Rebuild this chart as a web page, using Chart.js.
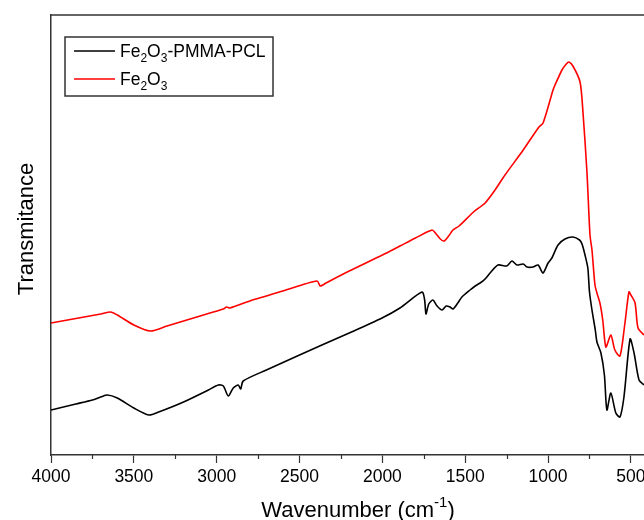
<!DOCTYPE html>
<html>
<head>
<meta charset="utf-8">
<title>FTIR</title>
<script src="https://cdn.jsdelivr.net/npm/chart.js@4/dist/chart.umd.min.js"></script>
<style>
  html, body { margin: 0; padding: 0; background: #fff; }
  #wrap { width: 644px; height: 520px; }
</style>
</head>
<body>
<div id="wrap"><canvas id="c"></canvas></div>
<script>
// spectra (wavenumber in cm-1, transmitance in arbitrary units)
var compositeWavenumber = [4000, 3900, 3850, 3750, 3700, 3660, 3600, 3500, 3410, 3350, 3200, 3050, 2990, 2960, 2930, 2900, 2870, 2855, 2840, 2700, 2500, 2365, 2200, 2002, 1894, 1761, 1745, 1737, 1720, 1695, 1670, 1640, 1615, 1592, 1574, 1545, 1520, 1471, 1440, 1410, 1380, 1350, 1302, 1250, 1218, 1188, 1150, 1127, 1091, 1060, 1031, 1000, 977, 940, 898, 850, 810, 795, 777, 760, 750, 735, 715, 705, 681, 660, 645, 621, 591, 566, 542, 505, 481, 451, 421];
var compositeT = [45, 49, 51, 55, 58, 60, 57, 47, 40, 43, 53, 65, 70, 69, 59, 67, 70, 66, 74, 85, 100, 110, 122, 137, 147, 163, 155, 141, 151, 155, 149, 145, 149, 148, 146, 152, 158, 165, 169, 172, 176, 182, 190, 189, 194, 190, 191, 188, 188, 190, 182, 192, 197, 210, 216, 218, 215, 211, 200, 187, 163, 145, 125, 113, 102, 80, 45, 62, 42, 38, 58, 116, 102, 75, 70];

var oxideWavenumber = [4000, 3900, 3800, 3700, 3640, 3600, 3500, 3400, 3300, 3100, 2960, 2940, 2920, 2800, 2600, 2395, 2375, 2360, 2340, 2200, 2000, 1894, 1800, 1700, 1680, 1650, 1628, 1600, 1574, 1537, 1450, 1380, 1320, 1260, 1150, 1055, 1030, 970, 958, 916, 890, 874, 850, 807, 789, 765, 747, 735, 717, 705, 687, 670, 651, 621, 597, 566, 536, 512, 500, 475, 457, 421];
var oxideT = [132, 135, 138, 141, 143, 140, 130, 124, 129, 139, 146, 148, 147, 154, 164, 174, 169, 170, 172, 184, 200, 209, 217, 225, 222, 216, 214, 219, 225, 229, 243, 252, 265, 280, 305, 328, 332, 365, 370, 385, 391, 393, 389, 373, 342, 282, 220, 205, 170, 162, 152, 135, 108, 120, 105, 99, 132, 163, 160, 152, 127, 120];

// "_" marks the next character as a subscript
var seriesLabels = ["Fe_2O_3-PMMA-PCL", "Fe_2O_3"];
var seriesColors = ["#000000", "#ff0000"];
var xMajorTicks = [4000, 3500, 3000, 2500, 2000, 1500, 1000, 500];
var xMinorTicks = [3750, 3250, 2750, 2250, 1750, 1250, 750];

var FONT = "'Liberation Sans', Arial, sans-serif";
var AXIS = "#333333";

function toPoints(xs, ys) {
  return xs.map(function (x, i) { return { x: x, y: ys[i] }; });
}

// splits "Fe_2O_3" / "cm^-1)" into runs of normal, sub and super text
function richRuns(str) {
  var runs = [], i = 0, buf = "";
  while (i < str.length) {
    var ch = str[i];
    if (ch === "_" || ch === "^") {
      if (buf) { runs.push({ t: buf, k: 0 }); buf = ""; }
      i++;
      var part = "";
      if (ch === "^") {
        while (i < str.length && str[i] !== ")") { part += str[i]; i++; }
      } else {
        part = str[i]; i++;
      }
      runs.push({ t: part, k: ch === "_" ? 1 : -1 });
      continue;
    }
    buf += ch;
    i++;
  }
  if (buf) runs.push({ t: buf, k: 0 });
  return runs;
}

function drawRich(ctx, str, x, y, size, measureOnly) {
  var start = x;
  richRuns(str).forEach(function (r) {
    var s = r.k === 0 ? size : Math.round(size * 0.66);
    ctx.font = s + "px " + FONT;
    var dy = r.k === 1 ? size * 0.3 : (r.k === -1 ? -size * 0.45 : 0);
    if (!measureOnly) ctx.fillText(r.t, x, y + dy);
    x += ctx.measureText(r.t).width;
  });
  return x - start;
}

var framePlugin = {
  id: "frame",
  afterDraw: function (chart) {
    var ctx = chart.ctx;
    var area = chart.chartArea;
    var xs = chart.scales.x;
    ctx.save();

    // top border
    ctx.strokeStyle = AXIS;
    ctx.lineWidth = 1.5;
    ctx.beginPath();
    ctx.moveTo(area.left - 0.75, area.top);
    ctx.lineTo(area.right, area.top);
    ctx.stroke();

    // minor ticks
    ctx.lineWidth = 1.2;
    xMinorTicks.forEach(function (v) {
      var px = Math.round(xs.getPixelForValue(v)) + 0.5;
      ctx.beginPath();
      ctx.moveTo(px, area.bottom);
      ctx.lineTo(px, area.bottom + 4);
      ctx.stroke();
    });

    // axis titles
    ctx.fillStyle = "#000";
    ctx.textBaseline = "alphabetic";
    var xt = "Wavenumber (cm^-1)";
    var w = drawRich(ctx, xt, 0, 0, 22, true);
    drawRich(ctx, xt, 358 - w / 2, 517, 22);

    ctx.save();
    ctx.translate(33, 229);
    ctx.rotate(-Math.PI / 2);
    ctx.font = "22px " + FONT;
    ctx.textAlign = "center";
    ctx.fillText("Transmitance", 0, 0);
    ctx.restore();

    // legend
    ctx.strokeStyle = AXIS;
    ctx.lineWidth = 1.5;
    ctx.strokeRect(65, 37, 208, 59);
    seriesLabels.forEach(function (label, i) {
      var y = 51 + i * 28;
      ctx.strokeStyle = seriesColors[i];
      ctx.lineWidth = 1.5;
      ctx.beginPath();
      ctx.moveTo(74, y);
      ctx.lineTo(115, y);
      ctx.stroke();
      ctx.fillStyle = "#000";
      drawRich(ctx, label, 120, y + 6, 17.5);
    });

    ctx.restore();
  }
};

var datasets = [
  { label: seriesLabels[0], data: toPoints(compositeWavenumber, compositeT), borderColor: seriesColors[0] },
  { label: seriesLabels[1], data: toPoints(oxideWavenumber, oxideT), borderColor: seriesColors[1] }
].map(function (d) {
  d.borderWidth = 1.6;
  d.pointRadius = 0;
  d.tension = 0.25;
  d.fill = false;
  return d;
});

new Chart(document.getElementById("c"), {
  type: "line",
  data: { datasets: datasets },
  plugins: [framePlugin],
  options: {
    responsive: true,
    maintainAspectRatio: false,
    animation: false,
    layout: { padding: { top: 15, right: 0, left: 0, bottom: 0 } },
    plugins: { legend: { display: false }, tooltip: { enabled: false } },
    scales: {
      x: {
        type: "linear",
        reverse: true,
        min: 421,
        max: 4000,
        afterFit: function (scale) {
          scale.height = 65;
          scale.paddingLeft = 0;
          scale.paddingRight = 0;
        },
        afterBuildTicks: function (scale) {
          scale.ticks = xMajorTicks.map(function (v) { return { value: v }; });
        },
        ticks: {
          color: "#000",
          font: { family: FONT, size: 17.5 },
          padding: 4,
          maxRotation: 0,
          autoSkip: false,
          includeBounds: false,
          callback: function (v) { return String(v); }
        },
        grid: {
          display: true,
          drawOnChartArea: false,
          drawTicks: true,
          tickLength: 8,
          tickWidth: 1.2,
          tickColor: AXIS
        },
        border: { display: true, color: AXIS, width: 1.5 }
      },
      y: {
        min: 0,
        max: 440,
        afterFit: function (scale) { scale.width = 51; },
        ticks: { display: false },
        grid: { display: false },
        border: { display: true, color: AXIS, width: 1.5 }
      }
    }
  }
});
</script>
</body>
</html>
